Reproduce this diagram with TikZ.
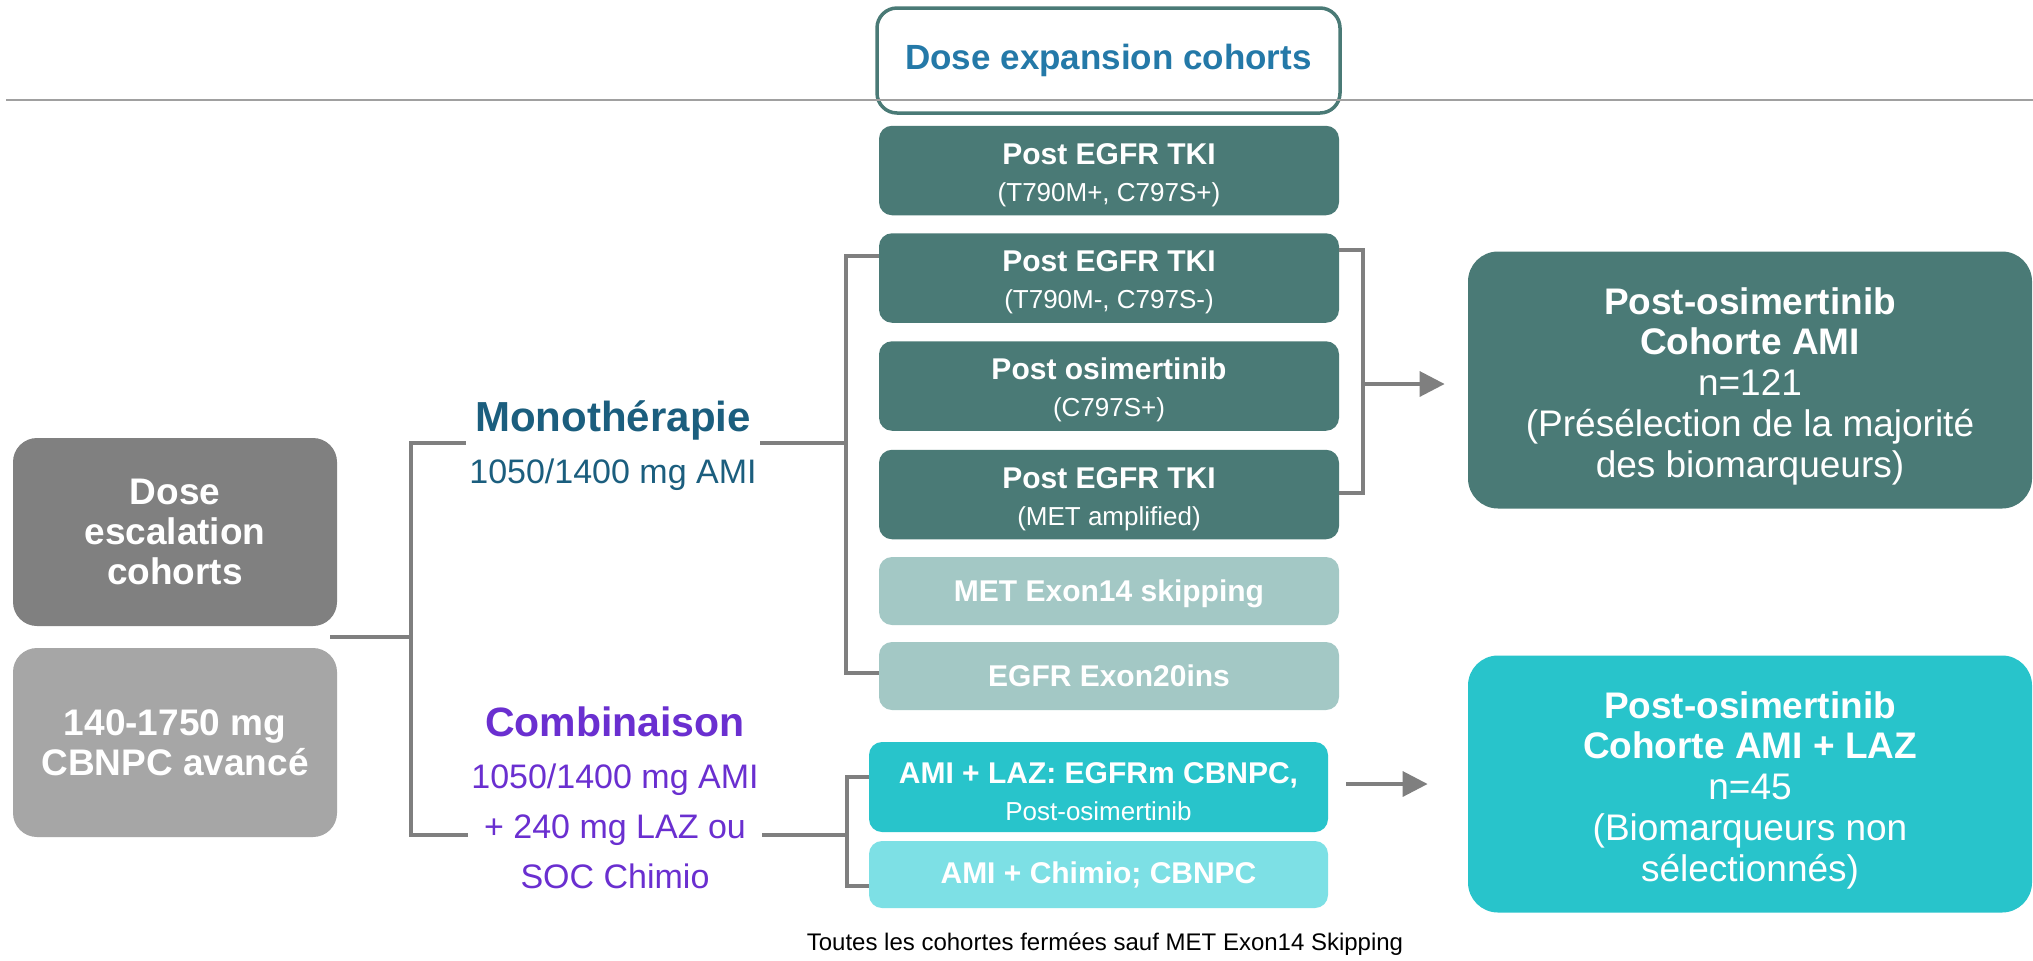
\documentclass[tikz,border=0pt]{standalone}
\usepackage{fontspec}
\setmainfont{Liberation Sans}
\usetikzlibrary{arrows.meta,calc}
\definecolor{tealD}{HTML}{4A7A76}
\definecolor{tealL}{HTML}{A3C8C5}
\definecolor{cyanD}{HTML}{28C4CB}
\definecolor{cyanL}{HTML}{7DE0E5}
\definecolor{grayD}{HTML}{808080}
\definecolor{grayL}{HTML}{A6A6A6}
\definecolor{connC}{HTML}{7F7F7F}
\definecolor{ruleC}{HTML}{A0A0A0}
\definecolor{titleC}{HTML}{2479A8}
\definecolor{monoC}{HTML}{1B5E7E}
\definecolor{combC}{HTML}{6A2FD0}
\newcommand{\hbf}{\bfseries\fontsize{15}{18.5}\selectfont}
\newcommand{\toplinebf}[1]{{\hbf\rule{0pt}{15pt}#1}}
\begin{document}
\begin{tikzpicture}[x=0.5pt,y=-0.5pt,
  box/.style={rounded corners=6.5pt, inner sep=0pt, align=center, text=white, draw=none},
  midbox/.style={box, minimum width=230pt, font=\fontsize{13}{18.5}\selectfont},
  tbox/.style={midbox, fill=tealD, minimum height=44.75pt},
  lbox/.style={midbox, fill=tealL, minimum height=34pt, font=\hbf, text depth=0pt},
  sidebox/.style={box, rounded corners=12pt, minimum width=162pt, minimum height=94pt, font=\bfseries\fontsize{18.5}{20}\selectfont},
  resbox/.style={box, rounded corners=15pt, minimum width=282pt, minimum height=128.5pt, font=\fontsize{18.5}{20.4}\selectfont},
  conn/.style={draw=connC, line width=1.75pt},
  arr/.style={conn, -{Triangle[length=12.5pt,width=12.5pt]}},
]
\path[fill=white,use as bounding box] (0,0) rectangle (2033,960);

% top title box and rule
\node[box, text=titleC, draw=tealD, line width=1.75pt, fill=white, rounded corners=10pt,
      minimum width=231.5pt, minimum height=52.5pt, font=\bfseries\fontsize{17.5}{21}\selectfont]
      (title) at (1108.5,60.5) {Dose expansion cohorts};
\draw[draw=ruleC, line width=1pt] (6,100) -- (2033,100);

% cohort boxes
\node[tbox] (b1) at (1109,170.5) {\toplinebf{Post EGFR TKI}\\(T790M+, C797S+)};
\node[tbox] (b2) at (1109,278) {\toplinebf{Post EGFR TKI}\\(T790M-, C797S-)};
\node[tbox] (b3) at (1109,386) {\toplinebf{Post osimertinib}\\(C797S+)};
\node[tbox] (b4) at (1109,494.5) {\toplinebf{Post EGFR TKI}\\(MET amplified)};
\node[lbox] (b5) at (1109,591) {MET Exon14 skipping};
\node[lbox] (b6) at (1109,676) {EGFR Exon20ins};
\node[midbox, fill=cyanD, minimum width=229.5pt, minimum height=45pt] (c1) at (1098.5,787)
      {\toplinebf{AMI + LAZ: EGFRm CBNPC,}\\Post-osimertinib};
\node[midbox, font=\hbf, fill=cyanL, minimum width=229.5pt, minimum height=33.5pt] (c2) at (1098.5,874.5)
      {AMI + Chimio; CBNPC};

% left boxes
\node[sidebox, fill=grayD] (L1) at (175,532) {Dose\\escalation\\cohorts};
\node[sidebox, fill=grayL, minimum height=94.5pt] (L2) at (175,742.5) {140-1750 mg\\CBNPC avancé};

% result boxes
\node[resbox, fill=tealD] (R1) at (1750,380)
  {\rule{0pt}{19.5pt}\textbf{Post-osimertinib}\\\textbf{Cohorte AMI}\\n=121\\(Présélection de la majorité\\des biomarqueurs)};
\node[resbox, fill=cyanD] (R2) at (1750,784)
  {\rule{0pt}{19.5pt}\textbf{Post-osimertinib}\\\textbf{Cohorte AMI + LAZ}\\n=45\\(Biomarqueurs non\\sélectionnés)};

% arm labels
\node[anchor=base, text=monoC, font=\bfseries\fontsize{21}{25}\selectfont, inner sep=1.5pt] (monoT) at (613,431) {Monothérapie};
\node[anchor=base, text=monoC, font=\fontsize{17}{25}\selectfont, inner sep=1.5pt] (monoD) at (613,483) {1050/1400 mg AMI};
\node[anchor=base, text=combC, font=\bfseries\fontsize{20.5}{25}\selectfont, inner sep=1.5pt] (combT) at (615,736) {Combinaison};
\node[anchor=base, text=combC, font=\fontsize{17}{25}\selectfont, align=center, inner sep=1.5pt] (combD) at (615,888)
  {1050/1400 mg AMI\\+ 240 mg LAZ ou\\SOC Chimio};

% footnote
\node[font=\fontsize{12}{14}\selectfont, text=black] (note) at (1105,944) {Toutes les cohortes fermées sauf MET Exon14 Skipping};

% connectors
\coordinate (lj) at (330,637);
\coordinate (j1) at (411,637);
\coordinate (mline) at (411,443);
\coordinate (cline) at (411,835);
\draw[conn] (lj) -- (j1);
\draw[conn] (monoD.west |- mline) -- (mline) -- (cline) -- (combD.west |- cline);

\coordinate (mtop) at (846,256);
\coordinate (mbot) at (846,673);
\draw[conn] (b2.west |- mtop) -- (mtop) -- (mbot) -- (b6.west |- mbot);
\draw[conn] (monoD.east |- mline) -- (mline -| mtop);

\coordinate (ctop) at (847,777);
\coordinate (cbot) at (847,886);
\draw[conn] (c1.west |- ctop) -- (ctop) -- (cbot) -- (c2.west |- cbot);
\draw[conn] (combD.east |- cline) -- (cline -| ctop);

\coordinate (rtop) at (1363,250);
\coordinate (rbot) at (1363,493);
\coordinate (rmid) at (1363,384);
\draw[conn] (b2.east |- rtop) -- (rtop) -- (rbot) -- (b4.east |- rbot);
\draw[arr, shorten >=11.5pt] (rmid) -- (R1.west |- rmid);

\coordinate (lowy) at (1346,784);
\draw[arr, shorten <=9pt, shorten >=20pt] (c1.east |- lowy) -- (R2.west |- lowy);
\end{tikzpicture}
\end{document}
